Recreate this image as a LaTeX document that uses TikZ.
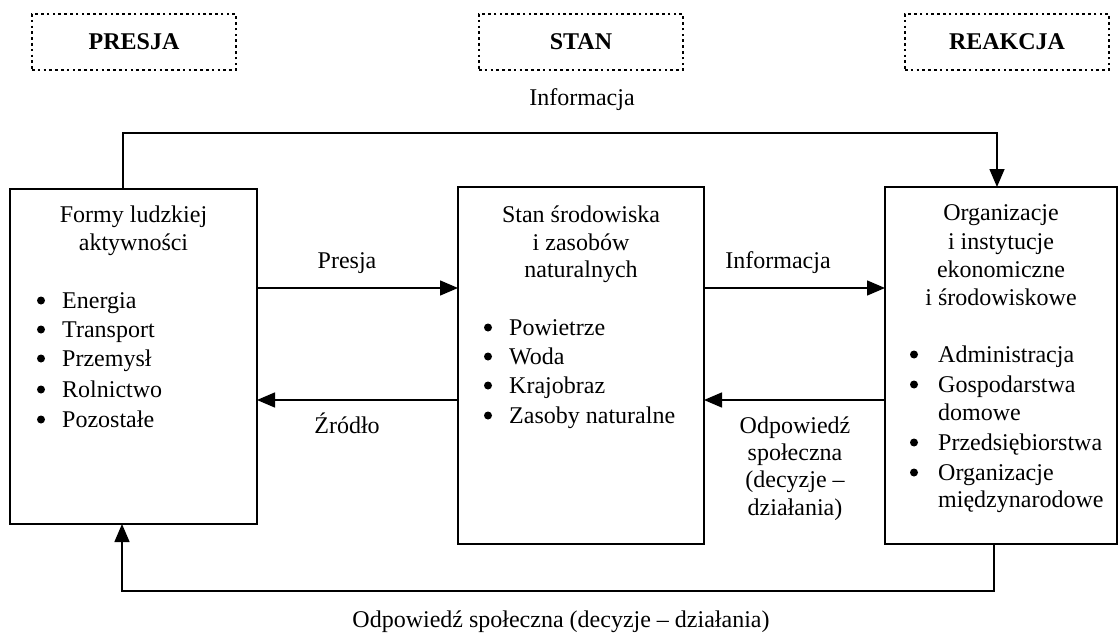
\documentclass[tikz,border=0pt]{standalone}
\usepackage{fontspec}
\setmainfont{Liberation Serif}
\usetikzlibrary{arrows.meta}
\begin{document}
\begin{tikzpicture}[x=1pt,y=-1pt,
  every node/.style={font=\fontsize{24}{30}\selectfont},
  box/.style={draw, line width=1.5pt, inner sep=0pt, outer sep=0pt},
  hdr/.style={draw, line width=2.6pt, dash pattern=on 2.6pt off 3.2pt, inner sep=0pt, outer sep=0pt, minimum width=204pt, minimum height=56pt, font=\fontsize{24}{30}\selectfont\bfseries},
  arr/.style={line width=1.5pt, -{Triangle[length=18pt,width=15pt]}},
  txt/.style={anchor=base, inner sep=0pt},
  txl/.style={anchor=base west, inner sep=0pt},
  bul/.style={circle, fill, inner sep=0pt, minimum size=8pt}]
\useasboundingbox (0,0) rectangle (1119,642);
% header boxes
\node[hdr] (hp) at (134,42) {PRESJA};
\node[hdr] (hs) at (581,42) {STAN};
\node[hdr] (hr) at (1007,42) {REAKCJA};
% main boxes
\node[box, minimum width=247pt, minimum height=335pt] (L) at (133.5,356.5) {};
\node[box, minimum width=246pt, minimum height=357pt] (M) at (581,365.5) {};
\node[box, minimum width=232pt, minimum height=357pt] (R) at (1001,365.5) {};
% left box text
\node[txt] (l1) at (133.5,222) {Formy ludzkiej};
\node[txt] (l2) at (133.5,250) {aktywności};
\foreach \t/\y [count=\i] in {Energia/308, Transport/337, Przemysł/366, Rolnictwo/397, Pozostałe/427}{
  \node[bul] (lb\i) at (41,\y-7.5) {};
  \node[txl] (lt\i) at (62,\y) {\t};
}
% middle box text
\node[txt] (m1) at (581,222) {Stan środowiska};
\node[txt] (m2) at (581,250) {i zasobów};
\node[txt] (m3) at (581,277) {naturalnych};
\foreach \t/\y [count=\i] in {Powietrze/335, Woda/364, Krajobraz/393, Zasoby naturalne/423}{
  \node[bul] (mb\i) at (488,\y-7.5) {};
  \node[txl] (mt\i) at (509,\y) {\t};
}
% right box text
\node[txt] (r1) at (1001,220) {Organizacje};
\node[txt] (r2) at (1001,249) {i instytucje};
\node[txt] (r3) at (1001,277) {ekonomiczne};
\node[txt] (r4) at (1001,305) {i środowiskowe};
\foreach \y [count=\i] in {362,392,450,480}{
  \node[bul] (rb\i) at (914,\y-7.5) {};
}
\node[txl] (rt1) at (938,362) {Administracja};
\node[txl] (rt2) at (938,392) {Gospodarstwa};
\node[txl] (rt3) at (938,420) {domowe};
\node[txl] (rt4) at (938,450) {Przedsiębiorstwa};
\node[txl] (rt5) at (938,480) {Organizacje};
\node[txl] (rt6) at (938,507) {międzynarodowe};
% connectors
\coordinate (y1) at (0,288);
\coordinate (y2) at (0,400);
\coordinate (tl) at (123,133);
\coordinate (tr) at (997,133);
\coordinate (bl) at (122,591);
\coordinate (br) at (994,591);
\draw[arr] (L.east |- y1) -- (M.west |- y1);
\draw[arr] (M.east |- y1) -- (R.west |- y1);
\draw[arr] (R.west |- y2) -- (M.east |- y2);
\draw[arr] (M.west |- y2) -- (L.east |- y2);
\draw[arr] (L.north -| tl) -- (tl) -- (tr) -- (R.north -| tr);
\draw[arr] (R.south -| br) -- (br) -- (bl) -- (L.south -| bl);
% labels
\node[txt] (a1) at (582,105) {Informacja};
\node[txt] (a2) at (347,268) {Presja};
\node[txt] (a3) at (778,268) {Informacja};
\node[txt] (a4) at (347,433) {Źródło};
\node[txt] (a5) at (795,433) {Odpowiedź};
\node[txt] (a6) at (795,460) {społeczna};
\node[txt] (a7) at (795,487) {(decyzje –};
\node[txt] (a8) at (795,515) {działania)};
\node[txt] (a9) at (561,627) {Odpowiedź społeczna (decyzje – działania)};
\end{tikzpicture}
\end{document}
